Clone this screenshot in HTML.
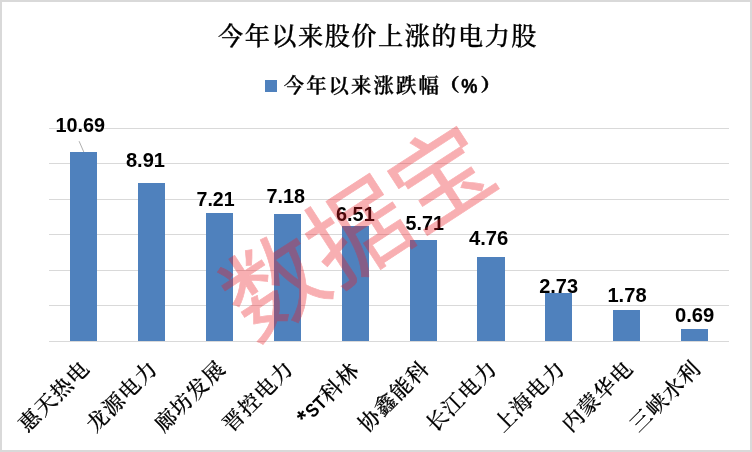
<!DOCTYPE html>
<html lang="zh-CN">
<head>
<meta charset="utf-8">
<title>今年以来股价上涨的电力股</title>
<style>
html,body{margin:0;padding:0;background:#fff;}
body{width:752px;height:452px;overflow:hidden;}
svg{display:block;}
.k{font-family:"Liberation Serif","Noto Serif CJK SC",serif;fill:#000;}
.s{font-family:"Liberation Sans","Noto Sans CJK SC",sans-serif;fill:#000;font-weight:700;}
</style>
</head>
<body>
<svg width="752" height="452" viewBox="0 0 752 452">
<rect x="0" y="0" width="752" height="452" fill="#d9d9d9"/>
<rect x="2" y="2" width="748" height="448" fill="#ffffff"/>
<g fill="#d9d9d9">
<rect x="49" y="128" width="680" height="1"/>
<rect x="49" y="163" width="680" height="1"/>
<rect x="49" y="199" width="680" height="1"/>
<rect x="49" y="234" width="680" height="1"/>
<rect x="49" y="270" width="680" height="1"/>
<rect x="49" y="305" width="680" height="1"/>
<rect x="49" y="341" width="680" height="1"/>
</g>
<g fill="#4f81bd">
<rect x="70" y="152" width="27" height="189"/>
<rect x="138" y="183" width="27" height="158"/>
<rect x="206" y="213" width="27" height="128"/>
<rect x="274" y="214" width="27" height="127"/>
<rect x="342" y="226" width="27" height="115"/>
<rect x="410" y="240" width="27" height="101"/>
<rect x="477" y="257" width="28" height="84"/>
<rect x="545" y="293" width="27" height="48"/>
<rect x="613" y="310" width="27" height="31"/>
<rect x="681" y="329" width="27" height="12"/>
</g>
<line x1="79.1" y1="141.2" x2="83.8" y2="152" stroke="#a6a6a6" stroke-width="0.9"/>
<text class="k" x="218.00 244.67 271.34 298.01 324.68 351.35 378.02 404.69 431.36 458.03 484.70 511.37" y="44.8" font-size="25.2" font-weight="500" stroke="#000" stroke-width="0.3">今年以来股价上涨的电力股</text>
<rect x="265" y="80" width="12" height="12" fill="#4f81bd"/>
<text class="k" x="283.70 306.15 328.60 351.05 373.50 395.95 418.40" y="92.9" font-size="20.4" font-weight="600" stroke="#000" stroke-width="0.3">今年以来涨跌幅</text>
<text class="k" transform="translate(439.0 91.0) scale(1.18 1)" font-size="17.5" font-weight="900" stroke="#000" stroke-width="0.45">（</text>
<text class="s" x="461.3" y="93" font-size="19.7" textLength="16.2" lengthAdjust="spacingAndGlyphs" stroke="#000" stroke-width="0.4">%</text>
<text class="k" transform="translate(480.6 91.0) scale(1.18 1)" font-size="17.5" font-weight="900" stroke="#000" stroke-width="0.45">）</text>
<text class="s" x="55.40" y="132" font-size="19.7" textLength="49.60" lengthAdjust="spacingAndGlyphs">10.69</text>
<text class="s" x="125.90" y="167" font-size="19.7" textLength="39.10" lengthAdjust="spacingAndGlyphs">8.91</text>
<text class="s" x="196.50" y="205.7" font-size="19.7" textLength="38.10" lengthAdjust="spacingAndGlyphs">7.21</text>
<text class="s" x="266.50" y="203" font-size="19.7" textLength="38.50" lengthAdjust="spacingAndGlyphs">7.18</text>
<text class="s" x="336.00" y="220.6" font-size="19.7" textLength="38.70" lengthAdjust="spacingAndGlyphs">6.51</text>
<text class="s" x="405.60" y="229.8" font-size="19.7" textLength="38.40" lengthAdjust="spacingAndGlyphs">5.71</text>
<text class="s" x="468.90" y="244.7" font-size="19.7" textLength="39.40" lengthAdjust="spacingAndGlyphs">4.76</text>
<text class="s" x="539.20" y="293" font-size="19.7" textLength="38.90" lengthAdjust="spacingAndGlyphs">2.73</text>
<text class="s" x="607.40" y="302" font-size="19.7" textLength="39.20" lengthAdjust="spacingAndGlyphs">1.78</text>
<text class="s" x="675.00" y="322" font-size="19.7" textLength="39.35" lengthAdjust="spacingAndGlyphs">0.69</text>
<text class="k" transform="translate(91.20 369.60) rotate(-45)" x="-90.00 -67.50 -45.00 -22.50" y="0" font-size="21.33" font-weight="500" stroke="#000" stroke-width="0.2">惠天热电</text>
<text class="k" transform="translate(159.12 369.60) rotate(-45)" x="-90.00 -67.50 -45.00 -22.50" y="0" font-size="21.33" font-weight="500" stroke="#000" stroke-width="0.2">龙源电力</text>
<text class="k" transform="translate(227.04 369.60) rotate(-45)" x="-90.00 -67.50 -45.00 -22.50" y="0" font-size="21.33" font-weight="500" stroke="#000" stroke-width="0.2">廊坊发展</text>
<text class="k" transform="translate(294.96 369.60) rotate(-45)" x="-90.00 -67.50 -45.00 -22.50" y="0" font-size="21.33" font-weight="500" stroke="#000" stroke-width="0.2">晋控电力</text>
<text class="k" transform="translate(362.88 369.60) rotate(-45)" font-size="21.33" font-weight="500"><tspan class="s" x="-80.30" y="0.30" font-size="23.5" font-weight="700">*</tspan><tspan class="s" x="-69.90" y="-0.50" font-size="18.9" font-weight="700" textLength="21.10" lengthAdjust="spacingAndGlyphs">ST</tspan><tspan x="-47.80 -25.30" y="0" stroke="#000" stroke-width="0.2">科林</tspan></text>
<text class="k" transform="translate(430.80 369.60) rotate(-45)" x="-90.00 -67.50 -45.00 -22.50" y="0" font-size="21.33" font-weight="500" stroke="#000" stroke-width="0.2">协鑫能科</text>
<text class="k" transform="translate(498.72 369.60) rotate(-45)" x="-90.00 -67.50 -45.00 -22.50" y="0" font-size="21.33" font-weight="500" stroke="#000" stroke-width="0.2">长江电力</text>
<text class="k" transform="translate(566.64 369.60) rotate(-45)" x="-90.00 -67.50 -45.00 -22.50" y="0" font-size="21.33" font-weight="500" stroke="#000" stroke-width="0.2">上海电力</text>
<text class="k" transform="translate(634.56 369.60) rotate(-45)" x="-90.00 -67.50 -45.00 -22.50" y="0" font-size="21.33" font-weight="500" stroke="#000" stroke-width="0.2">内蒙华电</text>
<text class="k" transform="translate(702.48 369.60) rotate(-45)" x="-90.00 -67.50 -45.00 -22.50" y="0" font-size="21.33" font-weight="500" stroke="#000" stroke-width="0.2">三峡水利</text>
<text transform="translate(358.6 233.0) rotate(-33)" text-anchor="middle" dominant-baseline="central" font-family='"Liberation Sans","Noto Sans CJK SC",sans-serif' font-size="99" font-weight="400" fill="#ed1c24" stroke="#ed1c24" stroke-width="0.7" stroke-linejoin="round" opacity="0.35">数据宝</text>
</svg>
</body>
</html>
